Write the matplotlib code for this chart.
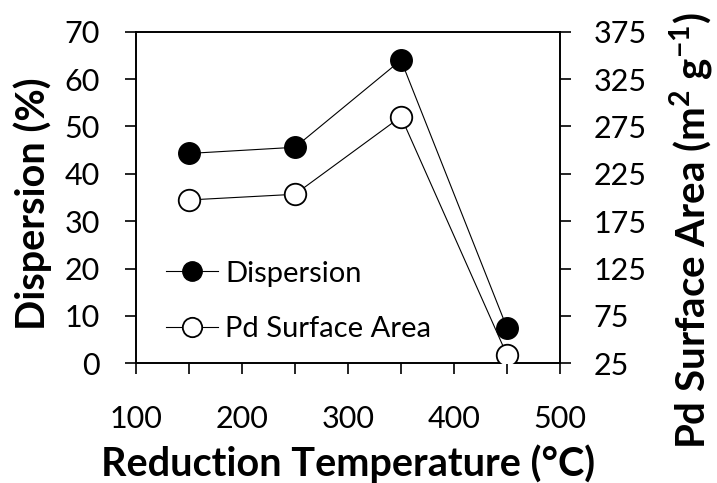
import matplotlib
matplotlib.use('Agg')
import matplotlib.pyplot as plt
from matplotlib.ticker import MultipleLocator

# reduction temperature series
temperature = [150, 250, 350, 450]
dispersion = [44.3, 45.6, 64.0, 7.5]          # %
surface_area = [197.4, 203.4, 285.3, 33.8]     # m2 g-1

left_ticks = list(range(0, 71, 10))
right_ticks = list(range(25, 376, 50))

plt.rcParams.update({
    'font.family': ['Lato', 'DejaVu Sans'],
    'font.size': 22,
    'mathtext.fontset': 'custom',
    'mathtext.rm': 'Lato',
    'mathtext.bf': 'Lato:bold',
    'axes.linewidth': 1.2,
})

fig = plt.figure(figsize=(7.17, 4.83), dpi=100)
ax = fig.add_axes([0.1897, 0.2478, 0.5913, 0.6866])
ax2 = ax.twinx()

l1, = ax.plot(temperature, dispersion, color='black', linewidth=0.8,
              marker='o', markersize=15.5, markerfacecolor='black',
              markeredgecolor='black', label='Dispersion', zorder=3)
l2, = ax2.plot(temperature, surface_area, color='black', linewidth=0.8,
               marker='o', markersize=15.5, markerfacecolor='white',
               markeredgecolor='black', markeredgewidth=1.3,
               label='Pd Surface Area', zorder=3)

ax.set_xlim(100, 500)
ax.set_ylim(0, 70)
ax2.set_ylim(25, 375)
ax.xaxis.set_major_locator(MultipleLocator(100))
ax.xaxis.set_minor_locator(MultipleLocator(50))
ax.set_yticks(left_ticks)
ax2.set_yticks(right_ticks)

for a in (ax, ax2):
    a.tick_params(which='both', direction='out', length=8, width=1.2,
                  labelsize=22)
ax.tick_params(axis='x', which='both', pad=22)
ax.tick_params(axis='y', pad=18)
ax2.tick_params(axis='y', pad=16)

ax.set_xlabel('Reduction Temperature (°C)', fontsize=28.5, fontweight='bold',
              labelpad=8)
ax.set_ylabel('Dispersion (%)', fontsize=28.5, fontweight='bold')
ax.yaxis.set_label_coords(-0.198, 0.48)
ax2.set_ylabel(r'Pd Surface Area (m$^{\mathbf{2}}$ g$^{\mathbf{-1}}$)',
               fontsize=29, fontweight='bold')
ax2.yaxis.set_label_coords(1.255, 0.40)

ax.legend(handles=[l1, l2], loc='lower left', bbox_to_anchor=(0.07, 0.065),
          frameon=False, fontsize=21, handlelength=1.8, handletextpad=0.25,
          labelspacing=1.0, borderpad=0, borderaxespad=0,
          markerscale=0.9)

fig.savefig('out.png', dpi=100)
